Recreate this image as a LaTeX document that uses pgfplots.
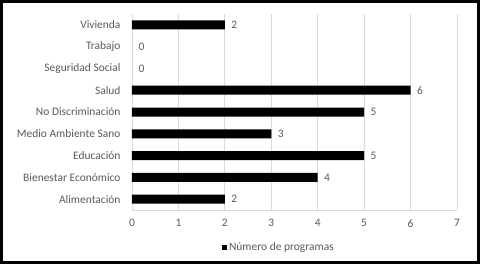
\documentclass[border=0pt]{standalone}
\usepackage{fontspec}
\setmainfont{Carlito}
\usepackage{pgfplots}
\pgfplotsset{compat=1.18}
\definecolor{txt}{HTML}{595959}
\definecolor{gridc}{HTML}{D9D9D9}
\begin{document}
\begin{tikzpicture}
\begin{axis}[
 at={(0,0)}, anchor=south west,
 scale only axis, width=325bp, height=196bp,
 xbar, bar width=9bp, bar shift=0pt,
 xmin=0, xmax=7, ymin=-0.5, ymax=8.5,
 xtick={0,...,7}, ytick={0,...,8},
 yticklabels={Alimentación, Bienestar Económico, Educación, Medio Ambiente Sano, No Discriminación, Salud, Seguridad Social, Trabajo, Vivienda},
 xmajorgrids, grid style={gridc, line width=0.75bp},
 axis x line*=bottom, axis y line*=left,
 axis line style={gridc, line width=0.75bp, -},
 major tick length=0pt,
 tick label style={font=\fontsize{11.5}{13}\selectfont, text=txt},
 /pgf/number format/assume math mode=true,
 yticklabel style={xshift=-8bp},
 xticklabel style={yshift=-6bp},
 nodes near coords,
 nodes near coords style={font=\fontsize{11.5}{13}\selectfont, text=txt, xshift=3bp},
 legend style={at={(0.452,-0.189)}, anchor=center, draw=none, font=\fontsize{11.5}{13}\selectfont, text=txt, fill=none},
 legend image code/.code={\fill[black] (0bp,-2.5bp) rectangle (5bp,2.5bp);},
]
\addplot[fill=black, draw=none] coordinates {(2,0) (4,1) (5,2) (3,3) (5,4) (6,5) (2,8)};
\addlegendentry{Número de programas}
\addplot[fill=none, draw=none, forget plot] coordinates {(0,6) (0,7)};
\end{axis}
\draw[line width=3bp, black] (-130.5bp,-52.5bp) rectangle (346.5bp,208.5bp);
\path[use as bounding box] (-132bp,-54bp) rectangle (348bp,210bp);
\end{tikzpicture}
\end{document}
